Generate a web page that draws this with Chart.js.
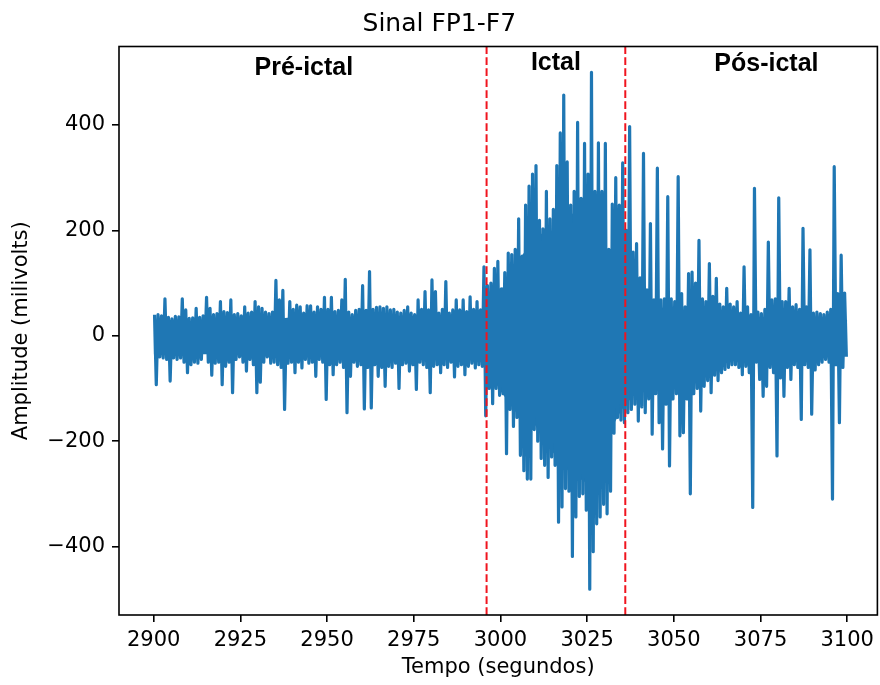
<!DOCTYPE html>
<html>
<head>
<meta charset="utf-8">
<script src="https://cdn.jsdelivr.net/npm/chart.js@4.4.1/dist/chart.umd.min.js"></script>
<style>
  html, body { margin: 0; padding: 0; background: #fff; }
</style>
</head>
<body>
<canvas id="sinal" width="880" height="685"></canvas>
<script>
// envelope: pico máximo e mínimo de cada segundo (2900 ... 3099)
const inicio = 2900;
const maximos = [
  40, 40, 38, 70, 35, 32, 37, 36, 70, 49,
  33, 34, 52, 35, 38, 73, 52, 40, 42, 65,
  46, 44, 68, 40, 42, 38, 55, 43, 45, 65,
  55, 52, 45, 42, 45, 105, 68, 86, 30, 65,
  50, 58, 55, 43, 57, 57, 45, 55, 50, 73,
  50, 73, 46, 48, 68, 107, 45, 40, 48, 50,
  95, 48, 122, 50, 54, 55, 52, 55, 49, 50,
  45, 43, 48, 55, 43, 40, 68, 50, 84, 49,
  106, 84, 43, 50, 103, 43, 49, 68, 49, 68,
  46, 74, 50, 65, 49, 131, 95, 100, 128, 141,
  89, 120, 157, 154, 164, 222, 151, 248, 284, 307,
  323, 219, 203, 274, 222, 240, 323, 385, 457, 330,
  248, 274, 405, 261, 365, 307, 500, 274, 366, 274,
  365, 164, 250, 300, 248, 328, 200, 397, 159, 175,
  110, 346, 87, 213, 68, 318, 68, 70, 264, 70,
  65, 302, 80, 55, 118, 121, 100, 181, 70, 65,
  137, 75, 109, 60, 55, 90, 60, 55, 65, 43,
  131, 55, 40, 280, 45, 42, 50, 178, 68, 70,
  262, 65, 65, 90, 55, 59, 50, 204, 55, 163,
  43, 45, 42, 40, 45, 50, 321, 80, 153, 81
];
const minimos = [
  -93, -40, -42, -45, -86, -42, -45, -42, -50, -70,
  -55, -50, -52, -45, -30, -50, -75, -52, -50, -93,
  -58, -50, -108, -45, -40, -50, -67, -45, -55, -108,
  -88, -50, -40, -52, -50, -55, -60, -140, -52, -50,
  -70, -50, -61, -45, -52, -50, -77, -45, -50, -121,
  -55, -74, -55, -50, -60, -146, -77, -50, -58, -55,
  -139, -60, -137, -55, -77, -60, -96, -58, -60, -52,
  -100, -55, -52, -67, -55, -102, -50, -55, -60, -108,
  -58, -55, -70, -55, -60, -50, -78, -58, -55, -74,
  -58, -52, -61, -55, -58, -152, -100, -129, -100, -113,
  -110, -224, -140, -172, -155, -227, -256, -272, -272, -178,
  -200, -233, -246, -269, -230, -246, -354, -325, -290, -295,
  -419, -344, -305, -300, -331, -481, -410, -357, -344, -320,
  -338, -295, -185, -155, -160, -165, -146, -140, -130, -162,
  -135, -146, -120, -187, -110, -165, -215, -130, -247, -120,
  -110, -190, -184, -120, -300, -110, -100, -143, -96, -85,
  -108, -75, -85, -70, -64, -60, -55, -55, -60, -74,
  -58, -70, -326, -50, -83, -115, -96, -60, -70, -228,
  -80, -115, -60, -83, -55, -60, -159, -55, -60, -149,
  -65, -55, -50, -45, -50, -310, -55, -165, -60, -40
];
// faixa sólida (núcleo) do sinal, lida a cada 5 s de 2900 a 3100
const tempoNucleo = [
  2900, 2905, 2910, 2915, 2920, 2925, 2930, 2935, 2940, 2945,
  2950, 2955, 2960, 2965, 2970, 2975, 2980, 2985, 2990, 2995,
  3000, 3005, 3010, 3015, 3020, 3025, 3030, 3035, 3040, 3045,
  3050, 3055, 3060, 3065, 3070, 3075, 3080, 3085, 3090, 3095, 3100
];
const nucleoSup = [
  30, 30, 28, 30, 30, 30, 32, 32, 35, 35,
  35, 35, 38, 38, 38, 38, 40, 40, 40, 45,
  85, 140, 190, 200, 230, 240, 150, 120, 60, 55,
  50, 45, 40, 38, 35, 35, 35, 35, 35, 35, 30
];
const nucleoInf = [
  -35, -35, -35, -35, -35, -35, -38, -38, -40, -40,
  -40, -40, -42, -42, -42, -42, -45, -45, -45, -50,
  -105, -150, -170, -220, -260, -280, -200, -140, -100, -90,
  -80, -60, -50, -45, -42, -42, -42, -40, -40, -40, -35
];
const limitesCrise = [2996, 3036];
const fases = ["Pré-ictal", "Ictal", "Pós-ictal"];
const ticksX = [2900, 2925, 2950, 2975, 3000, 3025, 3050, 3075, 3100];
const ticksY = [-400, -200, 0, 200, 400];

// margem de 5% como no matplotlib
const vMax = Math.max(...maximos), vMin = Math.min(...minimos);
const folga = 0.05 * (vMax - vMin);
const yMin = vMin - folga, yMax = vMax + folga;

// cada segundo vira um vai-e-vem entre o máximo e o mínimo
const pontos = [];
maximos.forEach((v, i) => {
  pontos.push({ x: inicio + i + 0.25, y: v });
  pontos.push({ x: inicio + i + 0.75, y: minimos[i] });
});

const azul = "#1f77b4";

const linhaVertical = x => ({
  data: [{ x: x, y: yMin }, { x: x, y: yMax }],
  borderColor: "#f0141e",
  borderWidth: 2,
  borderDash: [7.7, 3.3],
  pointRadius: 0,
  order: 0,
});

const fonte = "'DejaVu Sans', sans-serif";

// moldura e rótulos das fases
const extras = {
  id: "extras",
  afterDatasetsDraw(chart) {
    const { ctx, chartArea: a, scales: { x, y } } = chart;
    ctx.save();
    ctx.strokeStyle = "#000";
    ctx.lineWidth = 1.6;
    ctx.strokeRect(a.left, a.top, a.right - a.left, a.bottom - a.top);

    ctx.fillStyle = "#000";
    ctx.font = "bold 25px 'Liberation Sans', Arial, sans-serif";
    ctx.textAlign = "center";
    ctx.textBaseline = "alphabetic";
    const posX = [2943.3, 3016, 3076.7];
    const posY = [495, 504, 502];
    fases.forEach((f, i) => {
      ctx.fillText(f, x.getPixelForValue(posX[i]), y.getPixelForValue(posY[i]));
    });
    ctx.restore();
  }
};

new Chart(document.getElementById("sinal"), {
  type: "line",
  data: {
    datasets: [
      linhaVertical(limitesCrise[0]),
      linhaVertical(limitesCrise[1]),
      {
        label: "FP1-F7",
        data: pontos,
        borderColor: azul,
        borderWidth: 3.2,
        borderJoinStyle: "round",
        pointRadius: 0,
        tension: 0,
        order: 1,
      },
      {
        label: "núcleo sup",
        data: tempoNucleo.map((t, i) => ({ x: t, y: nucleoSup[i] })),
        borderWidth: 0,
        borderColor: azul,
        backgroundColor: azul,
        fill: "+1",
        pointRadius: 0,
        order: 2,
      },
      {
        label: "núcleo inf",
        data: tempoNucleo.map((t, i) => ({ x: t, y: nucleoInf[i] })),
        borderWidth: 0,
        borderColor: azul,
        fill: false,
        pointRadius: 0,
        order: 3,
      }
    ]
  },
  options: {
    responsive: false,
    animation: false,
    devicePixelRatio: 1,
    events: [],
    layout: { padding: { left: 0, right: 1.4, top: 0, bottom: 0 } },
    plugins: {
      legend: { display: false },
      tooltip: { enabled: false },
      title: {
        display: true,
        text: "Sinal FP1-F7",
        color: "#000",
        font: { family: fonte, size: 25, weight: "normal" },
        padding: { top: 9, bottom: 7.5 },
      }
    },
    scales: {
      x: {
        type: "linear",
        min: 2890,
        max: 3108.7,
        afterBuildTicks: s => { s.ticks = ticksX.map(v => ({ value: v })); },
        afterFit: s => { s.height = 70; },
        border: { display: false },
        grid: { drawOnChartArea: false, drawTicks: true, tickLength: 7, color: "#000", lineWidth: 1.6 },
        ticks: {
          color: "#000",
          font: { family: fonte, size: 21 },
          padding: 6,
          autoSkip: false,
          maxRotation: 0,
          callback: v => String(v),
        },
        title: {
          display: true,
          text: "Tempo (segundos)",
          color: "#000",
          font: { family: fonte, size: 21 },
          padding: { top: 0, bottom: 5 },
        }
      },
      y: {
        min: yMin,
        max: yMax,
        afterBuildTicks: s => { s.ticks = ticksY.map(v => ({ value: v })); },
        afterFit: s => { s.width = 119; },
        border: { display: false },
        grid: { drawOnChartArea: false, drawTicks: true, tickLength: 7, color: "#000", lineWidth: 1.6 },
        ticks: {
          color: "#000",
          font: { family: fonte, size: 21 },
          padding: 7,
          callback: v => (v < 0 ? "\u2212" + Math.abs(v) : String(v)),
        },
        title: {
          display: true,
          text: "Amplitude (milivolts)",
          color: "#000",
          font: { family: fonte, size: 21 },
          padding: { top: 9, bottom: 0 },
        }
      }
    }
  },
  plugins: [extras]
});
</script>
</body>
</html>
